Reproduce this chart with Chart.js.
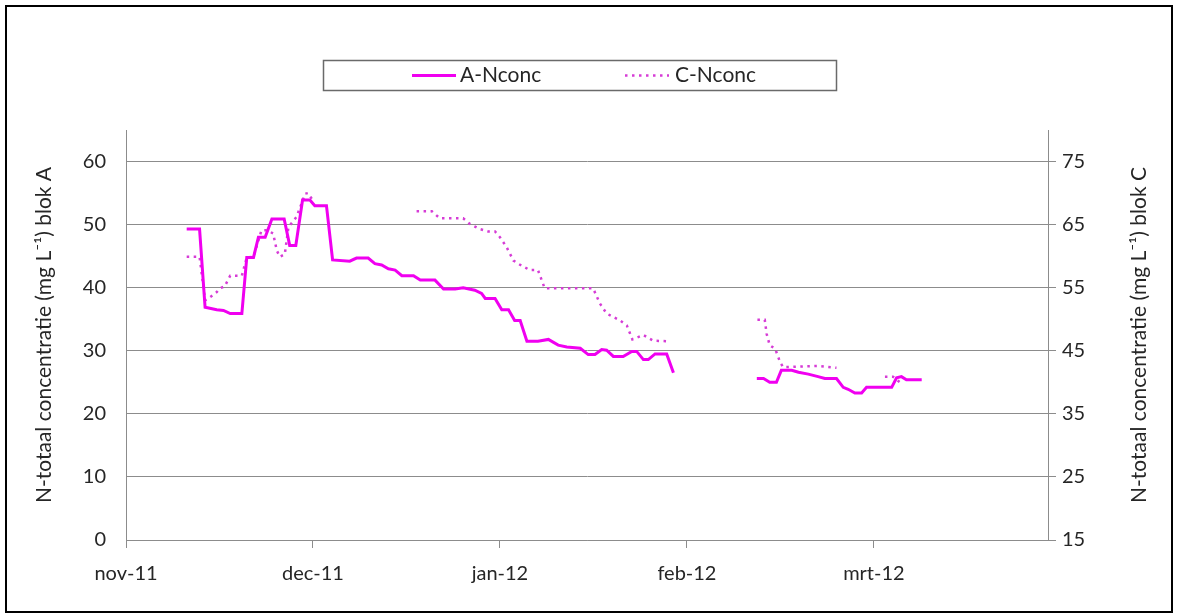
<!DOCTYPE html>
<html><head><meta charset="utf-8">
<script src="https://cdn.jsdelivr.net/npm/chart.js@4.4.0/dist/chart.umd.min.js"></script>
<style>
html,body{margin:0;padding:0;background:#fff;}
#wrap{position:absolute;left:0;top:0;width:1178px;height:615px;}
#frame{position:absolute;left:5px;top:5px;width:1164px;height:604px;border:2px solid #000;pointer-events:none;}
</style></head><body>
<div id="wrap"><canvas id="c" width="1178" height="615"></canvas></div>
<div id="frame"></div>
<script>
// x values: days since 1 Nov 2011
const monthLabels = ['nov-11','dec-11','jan-12','feb-12','mrt-12'];
const monthTicks = [0, 30.5, 61, 91.5, 122];
const xMax = 150.4;
const leftTicks = [0, 10, 20, 30, 40, 50, 60];
const rightTicks = [15, 25, 35, 45, 55, 65, 75];

const aDays = [9.9,12.0,12.9,14.8,15.9,17.0,18.9,19.7,20.8,21.6,22.7,23.8,25.8,26.7,27.7,28.8,30.0,30.8,32.7,33.7,
  36.5,37.6,39.5,40.6,41.7,42.8,43.9,45.0,46.9,48.0,50.4,51.8,53.7,55.0,56.9,58.0,58.6,60.2,61.3,62.4,
  63.4,64.3,65.4,67.2,68.9,70.5,71.9,74.1,75.4,76.5,77.6,78.4,79.5,81.1,82.5,83.3,84.4,85.2,86.3,88.2,89.3,
  96,
  102.9,104.0,105.0,106.1,106.9,108.6,109.7,111.3,112.9,114.0,115.9,117.0,117.8,118.9,120.0,120.8,122.4,124.9,125.7,126.5,127.3,129.8];
const aValues = [49.3,49.3,36.9,36.5,36.4,35.9,35.9,44.8,44.8,48.0,48.0,50.9,50.9,46.7,46.7,53.9,53.9,53.0,53.0,44.4,
  44.2,44.7,44.7,43.8,43.6,43.0,42.8,41.9,41.9,41.2,41.2,39.8,39.8,40.0,39.6,39.1,38.3,38.3,36.5,36.5,
  34.8,34.8,31.5,31.5,31.8,30.9,30.6,30.4,29.4,29.4,30.2,30.1,29.1,29.1,29.9,29.9,28.6,28.6,29.5,29.5,26.5,
  null,
  25.6,25.6,25.0,25.0,26.9,26.9,26.6,26.3,25.9,25.6,25.6,24.2,23.9,23.3,23.3,24.2,24.2,24.2,25.7,25.9,25.4,25.4];

const cDays = [9.9,12.0,12.9,13.7,14.8,15.3,16.1,17.0,18.9,19.7,20.8,22.1,23.0,24.0,24.6,25.1,25.9,26.5,27.3,27.8,28.7,29.2,29.7,30.3,
  39,
  47.4,49.9,51.2,55.0,56.1,57.7,59.1,60.2,61.0,62.1,63.2,64.5,65.9,67.2,68.3,76.2,77.3,78.4,80.6,81.7,82.6,84.4,86.0,88.5,
  96,
  103.0,104.2,104.5,105.0,105.9,106.7,107.2,112.7,115.9,
  120,
  123.8,125.1,126.5];
const cValues = [59.9,59.9,53.0,53.5,54.3,54.9,55.2,56.9,56.9,59.8,59.9,64.1,64.1,63.6,60.9,59.9,60.3,64.6,65.6,66.2,68.5,69.9,70.0,69.1,
  null,
  67.1,67.1,66.0,66.0,65.1,64.3,63.9,63.9,63.0,61.4,59.3,58.5,57.8,57.8,54.9,54.9,52.5,50.9,49.8,49.0,46.8,47.5,46.6,46.5,
  null,
  49.9,49.9,47.7,45.9,45.3,43.2,42.4,42.6,42.3,
  null,
  40.9,40.9,39.8];

const FONT = 'Lato, "Noto Sans", sans-serif';
const TXT = '#262626';
const AX = '#8c8c8c';

const decor = {
  id: 'decor',
  afterDraw(chart) {
    const ctx = chart.ctx;
    ctx.save();
    // legend box
    ctx.strokeStyle = '#6a6a6a';
    ctx.lineWidth = 1.5;
    ctx.strokeRect(323.5, 60.5, 513, 30);
    const pos = [{x: 412, tx: 460}, {x: 625, tx: 675}];
    chart.data.datasets.forEach((ds, i) => {
      ctx.strokeStyle = ds.borderColor;
      ctx.lineWidth = ds.borderWidth;
      ctx.setLineDash(ds.borderDash || []);
      ctx.beginPath(); ctx.moveTo(pos[i].x, 75.5); ctx.lineTo(pos[i].x + 44, 75.5); ctx.stroke();
      ctx.setLineDash([]);
      ctx.fillStyle = TXT;
      ctx.font = '21px ' + FONT;
      ctx.textBaseline = 'middle';
      ctx.textAlign = 'left';
      ctx.fillText(ds.label, pos[i].tx, 75.5);
    });
    // right axis title, reading bottom-to-top
    const area = chart.chartArea;
    ctx.translate(1139, (area.top + area.bottom) / 2);
    ctx.rotate(-Math.PI / 2);
    ctx.fillStyle = TXT;
    ctx.font = '21px ' + FONT;
    ctx.textAlign = 'center';
    ctx.textBaseline = 'middle';
    ctx.fillText('N-totaal concentratie (mg L\u207B\u00B9) blok C', 0, 0);
    ctx.restore();
  }
};

new Chart(document.getElementById('c'), {
  type: 'line',
  data: {
    datasets: [
      {label: 'A-Nconc', data: aDays.map((d, i) => ({x: d, y: aValues[i]})), yAxisID: 'y',
       borderColor: '#f000f0', borderWidth: 3, pointRadius: 0, tension: 0, spanGaps: false},
      {label: 'C-Nconc', data: cDays.map((d, i) => ({x: d, y: cValues[i]})), yAxisID: 'y2',
       borderColor: '#d63cd6', borderWidth: 2.5, borderDash: [2.5, 4.5], pointRadius: 0, tension: 0, spanGaps: false}
    ]
  },
  options: {
    responsive: false,
    animation: false,
    devicePixelRatio: 1,
    layout: {padding: {top: 130, left: 0, right: 0, bottom: 0}},
    plugins: {legend: {display: false}, tooltip: {enabled: false}},
    scales: {
      x: {
        type: 'linear', min: 0, max: xMax, position: 'bottom',
        afterBuildTicks: s => { s.ticks = monthTicks.map(v => ({value: v})); },
        afterFit: s => { s.height = 75; },
        grid: {drawOnChartArea: false, drawTicks: true, tickLength: 8, color: AX},
        border: {color: AX, width: 1},
        ticks: {callback: (v, i) => monthLabels[i] || '', autoSkip: false, maxRotation: 0,
                font: {family: FONT, size: 20}, color: TXT, padding: 14}
      },
      y: {
        position: 'left', min: 0, max: 65,
        ticks: {font: {family: FONT, size: 20}, color: TXT, padding: 20},
        afterBuildTicks: s => { s.ticks = leftTicks.map(v => ({value: v})); },
        afterFit: s => { s.width = 126; },
        grid: {color: AX, drawTicks: false},
        border: {color: AX, width: 1},
        title: {display: true, text: 'N-totaal concentratie (mg L\u207B\u00B9) blok A',
                font: {family: FONT, size: 21}, color: TXT, padding: {top: 32, bottom: 0}}
      },
      y2: {
        position: 'right', min: 15, max: 80,
        ticks: {font: {family: FONT, size: 20}, color: TXT, padding: 6},
        afterBuildTicks: s => { s.ticks = rightTicks.map(v => ({value: v})); },
        afterFit: s => { s.width = 130; },
        grid: {drawOnChartArea: false, drawTicks: true, tickLength: 8, color: AX},
        border: {color: AX, width: 1}
      }
    }
  },
  plugins: [decor]
});
</script>
</body></html>
